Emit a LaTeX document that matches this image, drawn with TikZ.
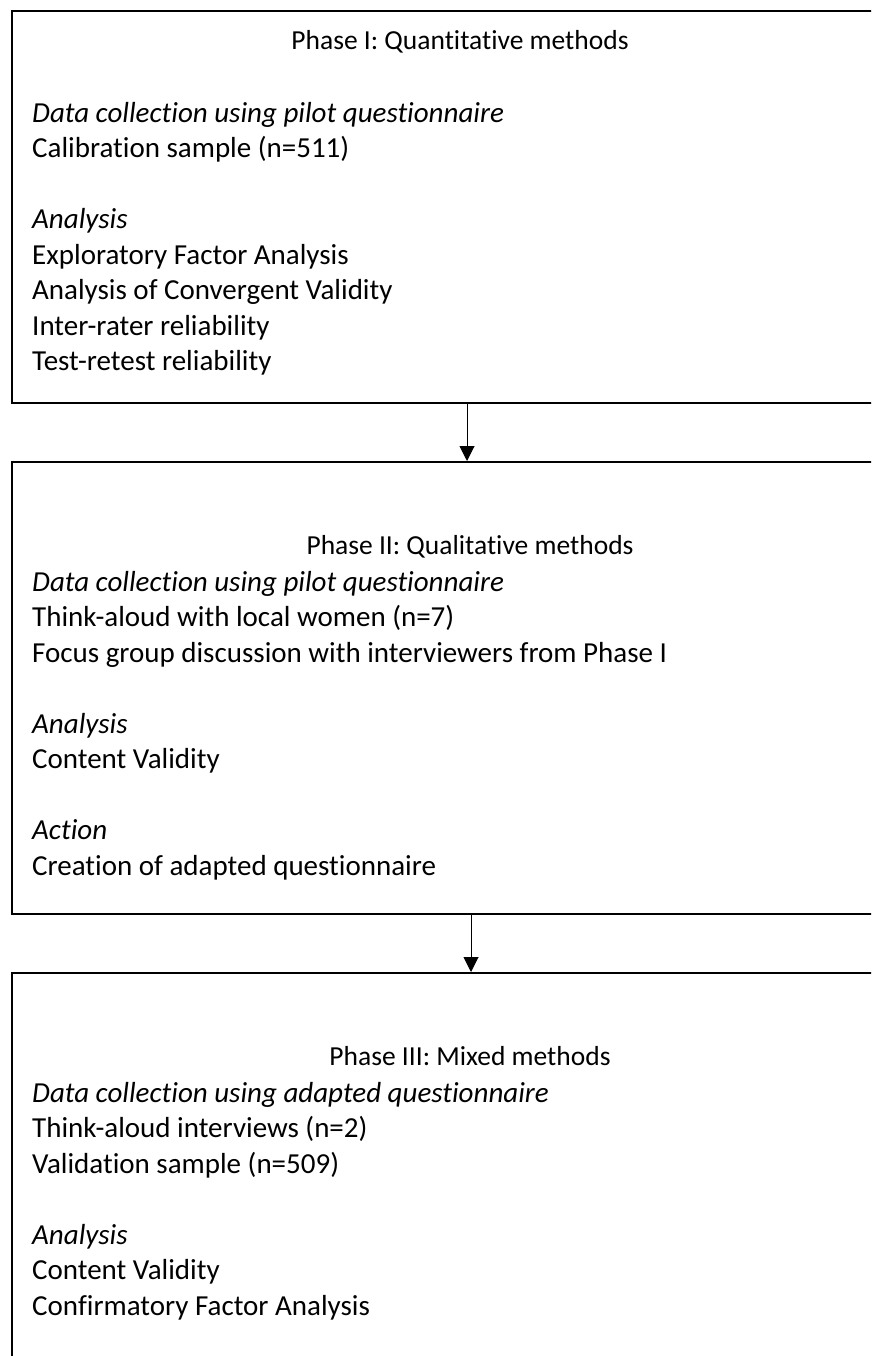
\documentclass[tikz,border=0pt]{standalone}
\usepackage{fontspec}
\setmainfont{Carlito}[Ligatures={NoCommon,NoContextual},RawFeature={-calt}]
\usetikzlibrary{arrows.meta}

\begin{document}
\begin{tikzpicture}[
    x=1pt, y=-1pt,
    % Node styles
    phasebox/.style={
        rectangle,
        draw=black,
        line width=2pt,
        minimum width=910pt,
        anchor=north west,
        inner sep=0pt
    },
    phasetitle/.style={
        anchor=base,
        inner sep=0pt,
        font=\fontsize{27.5}{35.5}\selectfont
    },
    phasetext/.style={
        anchor=north west,
        inner sep=0pt,
        align=left,
        font=\fontsize{29}{35.5}\selectfont
    },
    arrow/.style={
        -{Triangle[width=15pt,length=15pt]},
        line width=1pt,
        black
    }
]

\useasboundingbox (0,0) rectangle (871,1356);
\clip (0,0) rectangle (871,1356);

% === Phase I ===
\node[phasebox, minimum height=392pt] (phaseone) at (11,10) {};
\node[phasetitle] (titleone) at (460,50) {Phase I: Quantitative methods};
\node[phasetext] (textone) at (32,102) {
    \textit{Data collection using pilot questionnaire}\\
    Calibration sample (n=511)\\[35.5pt]
    \textit{Analysis}\\
    Exploratory Factor Analysis\\
    Analysis of Convergent Validity\\
    Inter-rater reliability\\
    Test-retest reliability
};

% === Phase II ===
\node[phasebox, minimum height=452pt] (phasetwo) at (11,461) {};
\node[phasetitle] (titletwo) at (470,554) {Phase II: Qualitative methods};
\node[phasetext] (texttwo) at (32,571) {
    \textit{Data collection using pilot questionnaire}\\
    Think-aloud with local women (n=7)\\
    Focus group discussion with interviewers from Phase I\\[35.5pt]
    \textit{Analysis}\\
    Content Validity\\[35.5pt]
    \textit{Action}\\
    Creation of adapted questionnaire
};

% === Phase III ===
\node[phasebox, minimum height=500pt] (phasethree) at (11,972) {};
\node[phasetitle] (titlethree) at (470,1065) {Phase III: Mixed methods};
\node[phasetext] (textthree) at (32,1082) {
    \textit{Data collection using adapted questionnaire}\\
    Think-aloud interviews (n=2)\\
    Validation sample (n=509)\\[35.5pt]
    \textit{Analysis}\\
    Content Validity\\
    Confirmatory Factor Analysis
};

% === Arrows ===
\draw[arrow] (phaseone.south) -- (phasetwo.north);
\draw[arrow] ([xshift=4pt]phasetwo.south) -- ([xshift=4pt]phasethree.north);

\end{tikzpicture}
\end{document}
